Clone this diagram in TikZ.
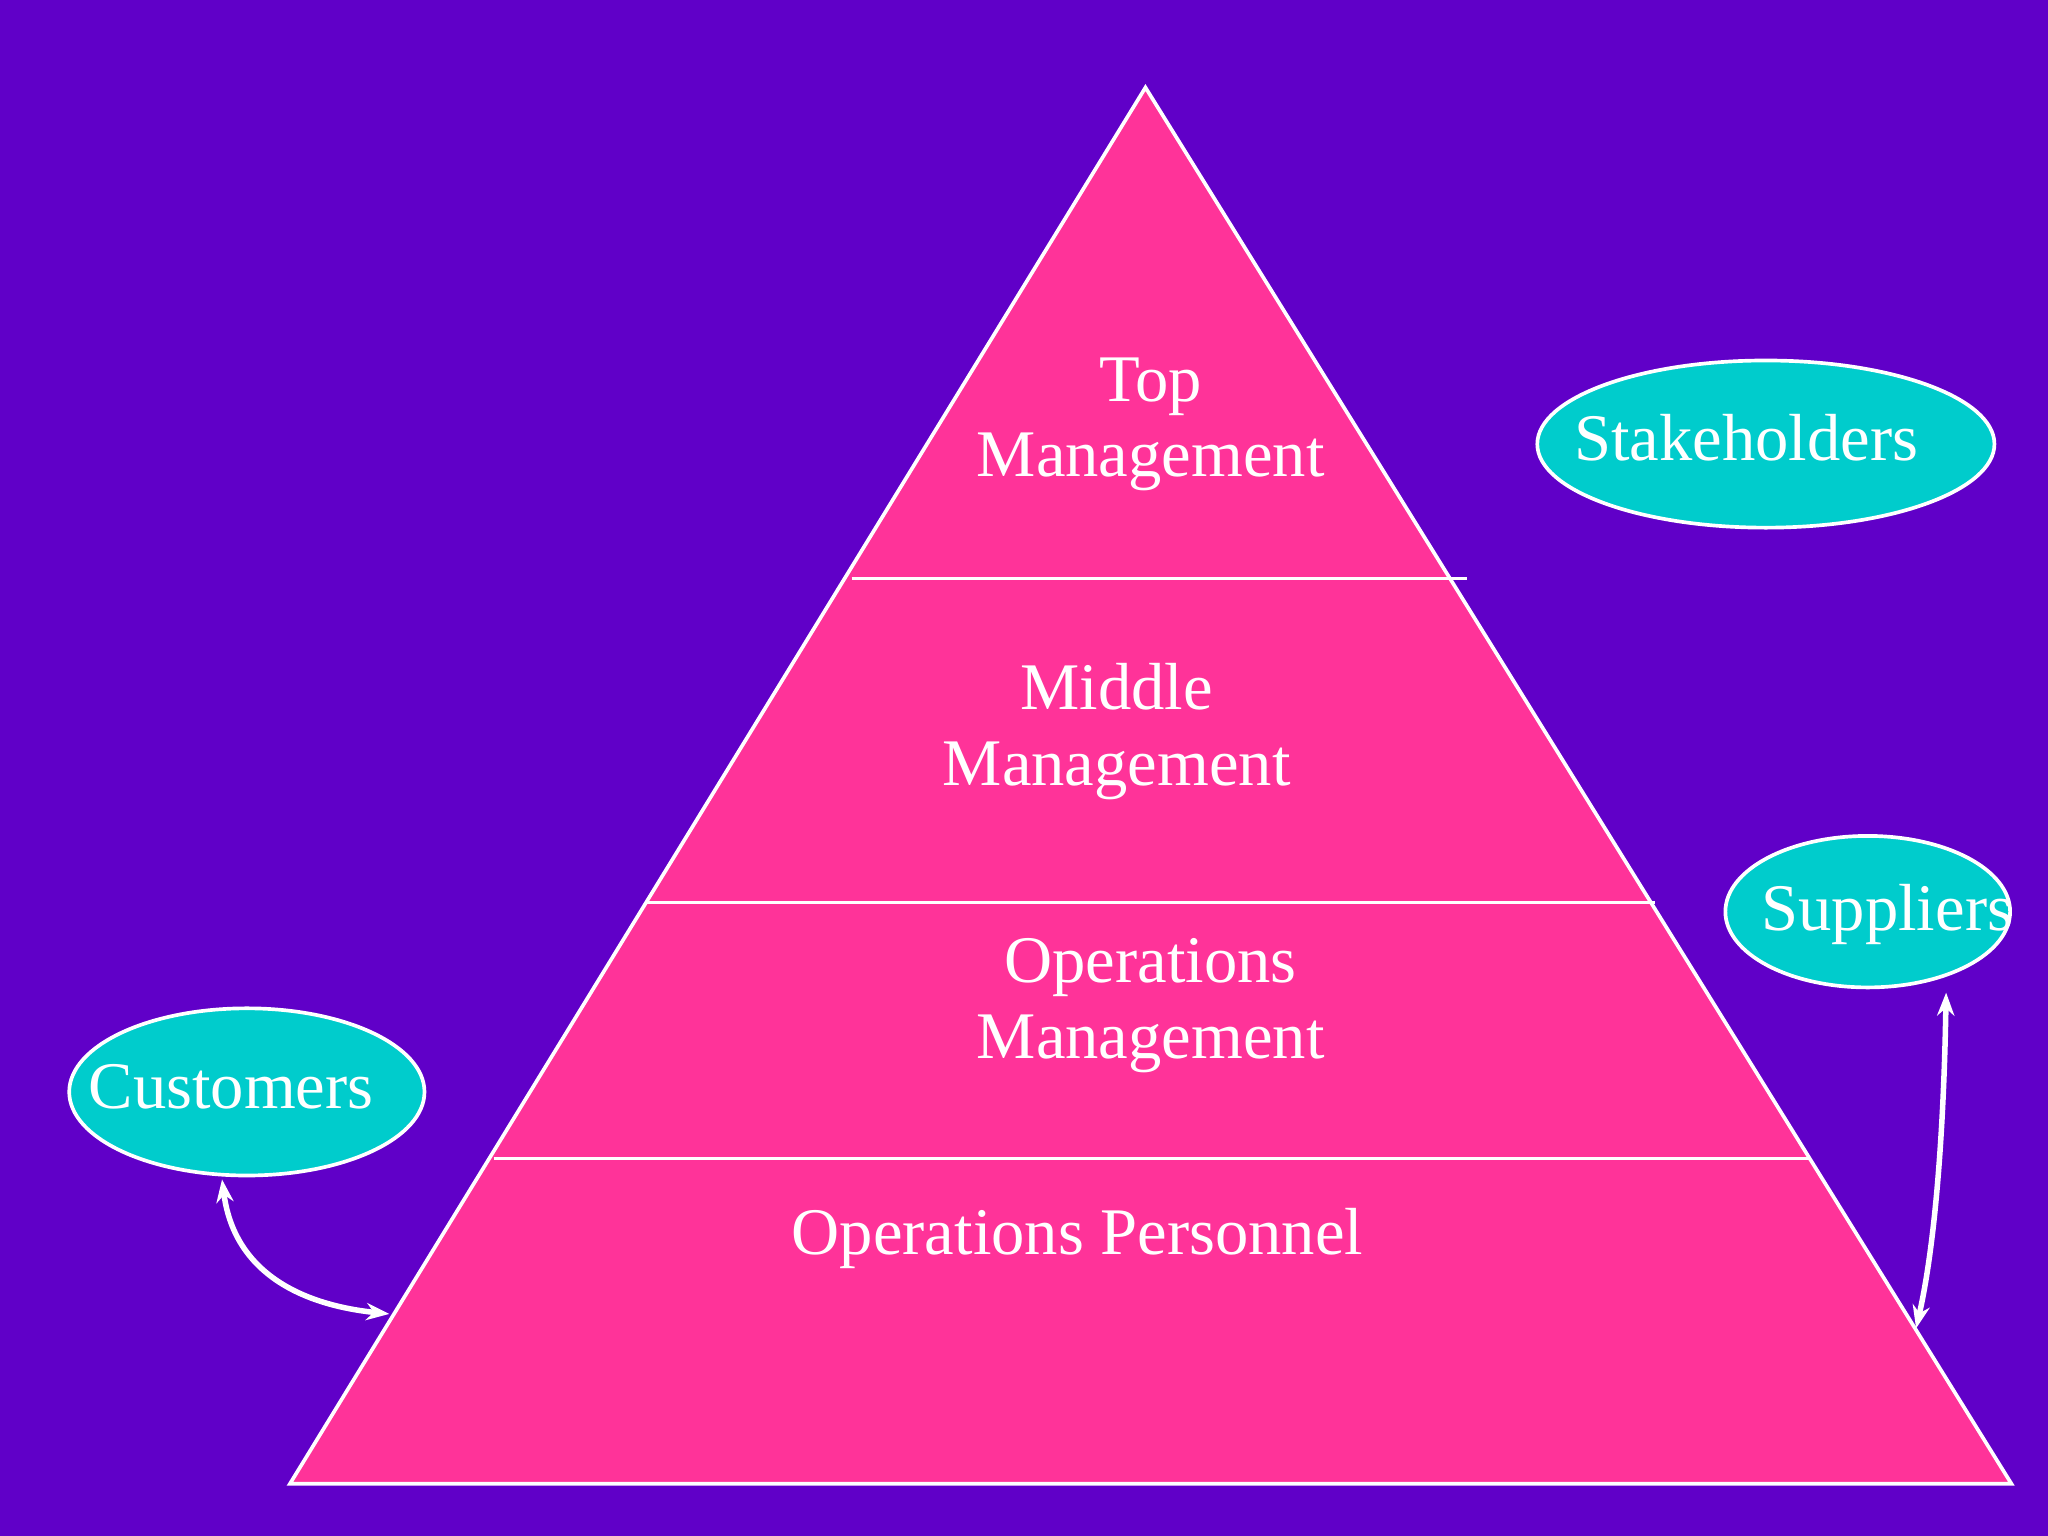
\documentclass[tikz,border=0pt]{standalone}
\usepackage{fontspec}
\setmainfont{Liberation Serif}
\usetikzlibrary{arrows.meta}
\definecolor{bgp}{HTML}{6000C8}
\definecolor{pinkf}{HTML}{FF3399}
\definecolor{tealf}{HTML}{00CCCC}
\tikzset{
 lbl/.style={text=white,align=center,font=\fontsize{14.5}{16.5}\selectfont},
 oval/.style={draw=white,line width=0.8pt,fill=tealf},
 sep/.style={draw=white,line width=0.8pt},
 link/.style={draw=white,line width=1.2pt,{Stealth[length=5pt]}-{Stealth[length=5pt]}}
}
\begin{document}
\begin{tikzpicture}[x=0.01cm,y=-0.01cm]
\fill[bgp] (0,0) rectangle (1568,1176);
\useasboundingbox (0,0) rectangle (1568,1176);
\fill[pinkf,draw=white,line width=0.8pt] (877,67) -- (1540,1136) -- (222,1136) -- cycle;
\coordinate (l1a) at (652,443); \coordinate (l1b) at (1123,443);
\coordinate (l2a) at (495,691); \coordinate (l2b) at (1267,691);
\coordinate (l3a) at (378,887); \coordinate (l3b) at (1386,887);
\draw[sep] (l1a)--(l1b); \draw[sep] (l2a)--(l2b); \draw[sep] (l3a)--(l3b);
\node[lbl] (top) at (881,325) {Top\\Management};
\node[lbl] (mid) at (855,560) {Middle\\Management};
\node[lbl] (opm) at (881,770) {Operations\\Management};
\node[lbl] (opp) at (825,948) {Operations Personnel};
\draw[oval] (1352,340) ellipse [x radius=175,y radius=64];
\node[lbl] (stk) at (1337,335) {Stakeholders};
\draw[oval] (1430,698) ellipse [x radius=109,y radius=58];
\node[lbl] (sup) at (1445,700) {Suppliers};
\draw[oval] (189,836) ellipse [x radius=136,y radius=64];
\node[lbl] (cus) at (177,832) {Customers};
\coordinate (ca) at (170,903); \coordinate (cb) at (298,1006);
\coordinate (sa) at (1490,760); \coordinate (sb) at (1467,1017);
\draw[link] (ca) .. controls (180,980) and (240,1000) .. (cb);
\draw[link] (sa) .. controls (1488,880) and (1480,960) .. (sb);
\end{tikzpicture}
\end{document}
